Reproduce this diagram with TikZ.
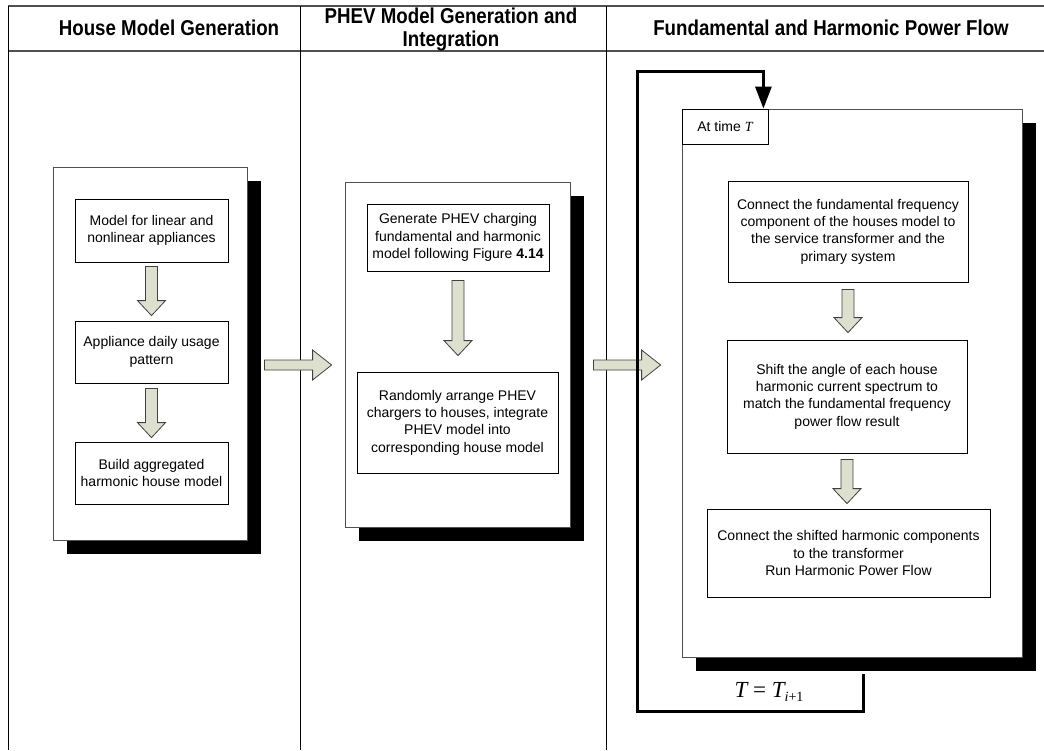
\documentclass[tikz,border=0pt]{standalone}
\usepackage{fontspec}
\setmainfont{Liberation Sans}
\newfontfamily\headfont[FakeStretch=0.87]{Liberation Sans}
\newfontfamily\termfont{Liberation Serif}
\usetikzlibrary{calc, shadows, arrows.meta}

\definecolor{arrowfill}{RGB}{221,224,206}
\definecolor{rulegray}{RGB}{80,80,80}

% italic time symbol in a Times-like face
\newcommand{\timeT}{{\termfont\itshape T}}

\tikzset{
    panel/.style={draw=rulegray, fill=white, line width=0.8pt, inner sep=0pt,
        general shadow={fill=black, shadow xshift=14pt, shadow yshift=-14pt}},
    stepbox/.style={draw=black, fill=white, line width=0.8pt, inner sep=0pt, align=center,
        font=\fontsize{14}{17.3}\selectfont},
    heading/.style={align=center, font=\headfont\bfseries\fontsize{21.5}{22.5}\selectfont},
    downarrow/.style={fill=arrowfill, draw=black!75, line width=0.8pt, to path={
        let \p1=(\tikztostart), \p2=(\tikztotarget) in
        (\x1-6pt,\y1) -- (\x1+6pt,\y1) -- (\x1+6pt,\y2+15pt) -- (\x1+14pt,\y2+15pt)
        -- (\x1,\y2) -- (\x1-14pt,\y2+15pt) -- (\x1-6pt,\y2+15pt) -- cycle}},
    rightarrow/.style={fill=arrowfill, draw=black!75, line width=0.8pt, to path={
        let \p1=(\tikztostart), \p2=(\tikztotarget) in
        (\x1,\y1+5pt) -- (\x2-19pt,\y1+5pt) -- (\x2-19pt,\y1+15pt) -- (\x2,\y1)
        -- (\x2-19pt,\y1-15pt) -- (\x2-19pt,\y1-5pt) -- (\x1,\y1-5pt) -- cycle}},
    timeloop/.style={line width=3pt, -{Triangle[width=16pt,length=22pt]}}
}

\begin{document}
\begin{tikzpicture}[x=1pt, y=-1pt]

    \useasboundingbox (0,0) rectangle (1044,750);

    % table rules and column headings
    \draw[rulegray, line width=1.2pt] (8,6) -- (1044,6);
    \draw[rulegray, line width=1.2pt] (8,51) -- (1044,51);
    \draw[line width=0.8pt] (8,6) -- (8,750);
    \draw[line width=0.8pt] (300,6) -- (300,750);
    \draw[line width=0.8pt] (606,6) -- (606,750);

    \node[heading] (head1) at (169,28) {House Model Generation};
    \node[heading] (head2) at (451,29.5) {PHEV Model Generation and\\Integration};
    \node[heading] (head3) at (831,28) {Fundamental and Harmonic Power Flow};

    % house model
    \node[panel, minimum width=194, minimum height=373] (panel1) at (150,353.5) {};
    \node[stepbox, minimum width=153, minimum height=63] (hm1) at (151.5,230.5) {Model for linear and\\nonlinear appliances};
    \node[stepbox, minimum width=153, minimum height=62] (hm2) at (151.5,352) {Appliance daily usage\\pattern};
    \node[stepbox, minimum width=153, minimum height=62] (hm3) at (151.5,473) {Build aggregated\\harmonic house model};
    \draw[downarrow] ($(hm1.south)+(0,4)$) to ($(hm2.north)-(0,5)$);
    \draw[downarrow] ($(hm2.south)+(0,5)$) to ($(hm3.north)-(0,4)$);

    % PHEV model
    \node[panel, minimum width=225, minimum height=345] (panel2) at (457.5,354.5) {};
    \node[stepbox, minimum width=182, minimum height=67] (pm1) at (458,237.5) {Generate PHEV charging\\fundamental and harmonic\\model following Figure \textbf{4.14}};
    \node[stepbox, minimum width=201, minimum height=101] (pm2) at (457.5,422.5) {Randomly arrange PHEV\\chargers to houses, integrate\\PHEV model into\\corresponding house model};
    \draw[downarrow] ($(pm1.south)+(0,9)$) to ($(pm2.north)-(0,16)$);

    % power flow
    \node[panel, minimum width=340, minimum height=548] (panel3) at (852,383) {};
    \node[stepbox, minimum width=86, minimum height=35] (timebox) at (725,126.5) {At time \timeT};
    \node[stepbox, minimum width=240, minimum height=101] (pf1) at (848,231.5) {Connect the fundamental frequency\\component of the houses model to\\the service transformer and the\\primary system};
    \node[stepbox, minimum width=240, minimum height=113] (pf2) at (847,396.5) {Shift the angle of each house\\harmonic current spectrum to\\match the fundamental frequency\\power flow result};
    \node[stepbox, minimum width=283, minimum height=88] (pf3) at (848.5,553) {Connect the shifted harmonic components\\to the transformer\\Run Harmonic Power Flow};
    \draw[downarrow] ($(pf1.south)+(0,7)$) to ($(pf2.north)-(0,7)$);
    \draw[downarrow] ($(pf2.south)+(0,6)$) to ($(pf3.north)-(0,5)$);

    % stage to stage
    \draw[rightarrow] ($(panel1.east)+(17,11.5)$) to ($(panel2.west)+(-13,11.5)$);
    \draw[rightarrow] ($(panel2.east)+(23,10.5)$) to ($(panel3.west)+(-21,10.5)$);

    % repeat for the next time step
    \coordinate (loopstart) at (863,674);
    \coordinate (loopcorner) at (637,711);
    \coordinate (looptop) at (637,71);
    \draw[timeloop] (loopstart) |- (loopcorner) -- (looptop) -| ($(timebox.north east)+(-5,0)$);
    \node[font=\termfont\fontsize{23}{25}\selectfont] (nextstep) at (769,692)
        {\itshape T\ \upshape=\ \itshape T\raisebox{-4pt}{\fontsize{14}{14}\selectfont i\upshape+1}};

\end{tikzpicture}
\end{document}
